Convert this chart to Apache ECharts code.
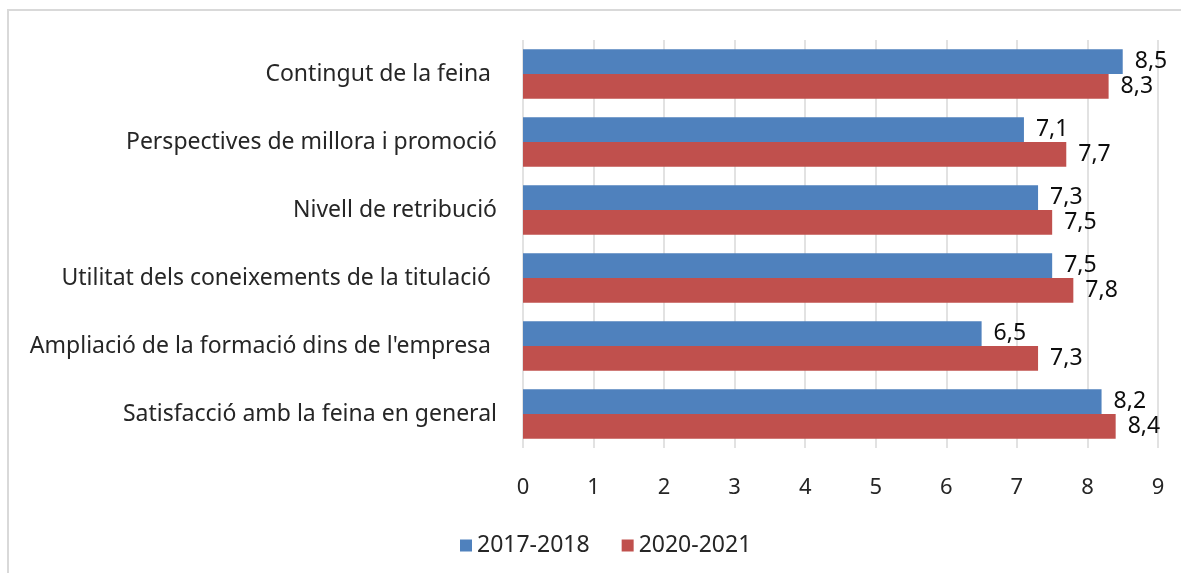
<!DOCTYPE html>
<html>
<head>
<meta charset="utf-8">
<script src="https://cdn.jsdelivr.net/npm/echarts@6/dist/echarts.min.js"></script>
<style>
  html, body { margin: 0; padding: 0; background: #fff; }
  #frame {
    position: absolute; left: 7px; top: 9px; width: 1180px; height: 570px;
    border-top: 2px solid #d9d9d9; border-left: 2px solid #d9d9d9;
  }
  #chart { position: absolute; left: 0; top: 0; width: 1181px; height: 573px; }
</style>
</head>
<body>
<div id="frame"></div>
<div id="chart"></div>
<script>
// categories listed bottom -> top (category axis on y starts at the bottom)
const categories = [
  'Satisfacció amb la feina en general',
  'Ampliació de la formació dins de l\'empresa ',
  'Utilitat dels coneixements de la titulació ',
  'Nivell de retribució',
  'Perspectives de millora i promoció',
  'Contingut de la feina '
];
const values2017 = [8.2, 6.5, 7.5, 7.3, 7.1, 8.5];
const values2020 = [8.4, 7.3, 7.8, 7.5, 7.7, 8.3];
const seriesNames = ['2017-2018', '2020-2021'];

const font = 'Noto Sans';
const fmt = p => String(p.value).replace('.', ',');

const chart = echarts.init(document.getElementById('chart'));
chart.setOption({
  animation: false,
  textStyle: { fontFamily: font },
  grid: { left: 523, right: 23, top: 40, bottom: 125 },
  legend: {
    bottom: 11,
    left: 455,
    itemWidth: 12,
    itemHeight: 12,
    itemGap: 32,
    icon: 'rect',
    textStyle: { fontSize: 23, color: '#262626', fontFamily: font },
    data: seriesNames
  },
  xAxis: {
    type: 'value',
    min: 0,
    max: 9,
    interval: 1,
    axisLine: { show: false },
    axisTick: { show: false },
    splitLine: { lineStyle: { color: '#d9d9d9', width: 1.5 } },
    axisLabel: { fontSize: 22, color: '#262626', margin: 29 }
  },
  yAxis: {
    type: 'category',
    data: categories,
    axisLine: { show: false },
    axisTick: { show: false },
    axisLabel: { fontSize: 23, color: '#262626', margin: 26 }
  },
  series: [
    {
      name: seriesNames[0],
      type: 'bar',
      data: values2017,
      barGap: '0%',
      barCategoryGap: '27%',
      itemStyle: { color: '#4f81bd' },
      label: { show: true, position: 'right', distance: 12, fontSize: 23, color: '#0d0d0d', formatter: fmt }
    },
    {
      name: seriesNames[1],
      type: 'bar',
      data: values2020,
      itemStyle: { color: '#c0504d' },
      label: { show: true, position: 'right', distance: 12, fontSize: 23, color: '#0d0d0d', formatter: fmt }
    }
  ]
});
</script>
</body>
</html>
